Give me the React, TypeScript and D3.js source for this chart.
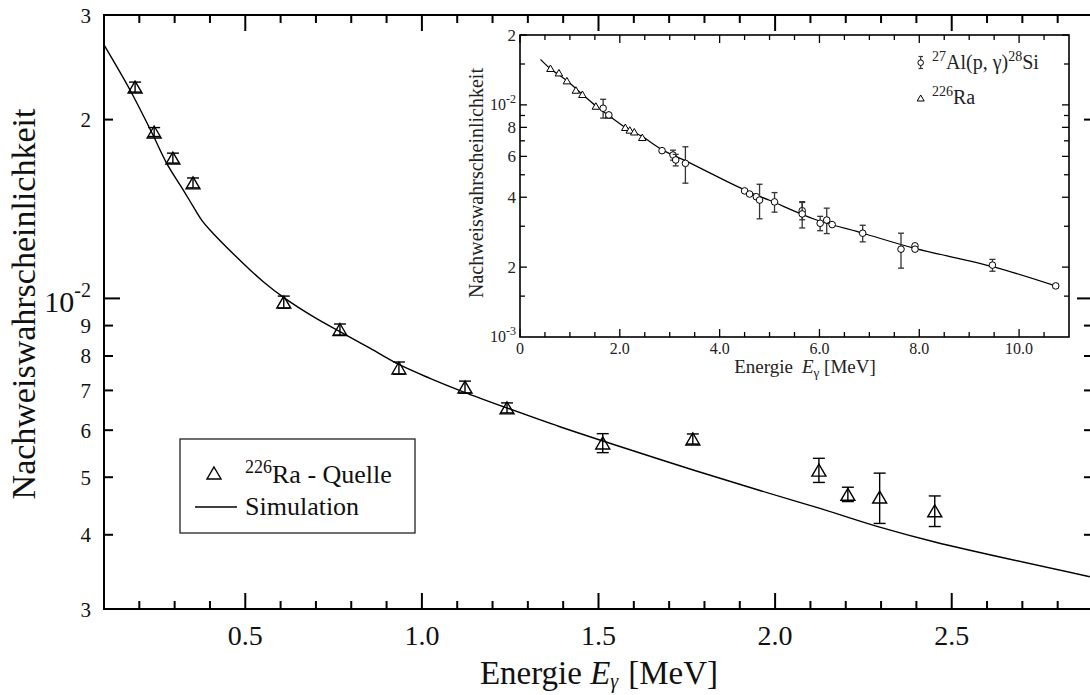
import React from "react";
import * as d3 from "d3";

// ---------- data: main plot (226Ra source) ----------
const raEnergy = [0.188, 0.242, 0.295, 0.352, 0.609, 0.768, 0.935, 1.122, 1.241, 1.512, 1.767, 2.124, 2.206, 2.296, 2.452];
const raEff = [0.02269, 0.01906, 0.01723, 0.01565, 0.00986, 0.008865, 0.007635, 0.007092, 0.006543, 0.00571, 0.0058, 0.00514, 0.00468, 0.00463, 0.00439];
const raErr = [0.00044, 0.00033, 0.00033, 0.0003, 0.00023, 0.00019, 0.00018, 0.000165, 0.000127, 0.00021, 0.000113, 0.00024, 0.00013, 0.00045, 0.00026];

const simEnergy = [0.1, 0.1736, 0.2359, 0.2775, 0.3245, 0.3528, 0.3765, 0.4, 0.4943, 0.5509, 0.6123, 0.6924, 0.768, 0.8529, 0.9378, 1.0227, 1.117, 1.2398, 1.3907, 1.532, 1.768, 1.957, 2.127, 2.296, 2.452, 2.891];
const simEff = [0.02671, 0.02243, 0.01899, 0.01688, 0.01522, 0.01427, 0.01355, 0.01304, 0.01145, 0.010668, 0.01, 0.009316, 0.00879, 0.008245, 0.007725, 0.007336, 0.006963, 0.006543, 0.00608, 0.005704, 0.005142, 0.004749, 0.00443, 0.00412, 0.00389, 0.0034];

// ---------- data: inset ----------
const insetRaEnergy = [0.61, 0.78, 0.94, 1.12, 1.25, 1.52, 1.78, 2.11, 2.2, 2.29, 2.45];
const insetRaEff = [0.01438, 0.01376, 0.01272, 0.01159, 0.01111, 0.00989, 0.00905, 0.00801, 0.0078, 0.00766, 0.00725];

const alEnergy = [1.666, 1.78, 2.846, 3.066, 3.12, 3.314, 4.5, 4.6, 4.734, 4.8, 5.1, 5.654, 5.654, 6.014, 6.146, 6.254, 6.866, 7.634, 7.914, 7.914, 9.466, 10.734];
const alEff = [0.00967, 0.00905, 0.00635, 0.00608, 0.00579, 0.0056, 0.00426, 0.00413, 0.00402, 0.00389, 0.00382, 0.0035, 0.00339, 0.00309, 0.00319, 0.00305, 0.0028, 0.00239, 0.00247, 0.00239, 0.00204, 0.00166];
const alErr = [0.0009, 0.00012, 0.00008, 0.0003, 0.00033, 0.001, 0.00005, 0.00005, 0.00005, 0.00066, 0.00037, 0.0003, 0.00044, 0.00022, 0.0004, 0.00005, 0.00023, 0.00041, 0.00005, 0.00005, 0.00012, 0.00003];

const fitEnergy = [0.41, 0.61, 0.94, 1.25, 1.52, 1.78, 2.11, 2.45, 2.85, 3.31, 4.5, 5.0, 5.93, 6.87, 7.91, 9.47, 10.73];
const fitEff = [0.0157, 0.0143, 0.0127, 0.0111, 0.0099, 0.009, 0.008, 0.0073, 0.0064, 0.00575, 0.0043, 0.00388, 0.0032, 0.0028, 0.00241, 0.00201, 0.00166];

// ---------- ticks ----------
const mainXMajor = [0.5, 1.0, 1.5, 2.0, 2.5];
const mainXMajorLabels = ["0.5", "1.0", "1.5", "2.0", "2.5"];
const mainXMinor = [0.2, 0.3, 0.4, 0.6, 0.7, 0.8, 0.9, 1.1, 1.2, 1.3, 1.4, 1.6, 1.7, 1.8, 1.9, 2.1, 2.2, 2.3, 2.4, 2.6, 2.7, 2.8];
const mainYTicks = [0.003, 0.004, 0.005, 0.006, 0.007, 0.008, 0.009, 0.01, 0.02, 0.03];
const mainYLabels = ["3", "4", "5", "6", "7", "8", "9", "10", "2", "3"];

const insetXMajor = [0, 2, 4, 6, 8, 10];
const insetXLabels = ["0", "2.0", "4.0", "6.0", "8.0", "10.0"];
const insetXMinor = [0.5, 1, 1.5, 2.5, 3, 3.5, 4.5, 5, 5.5, 6.5, 7, 7.5, 8.5, 9, 9.5, 10.5];
const insetYTicks = [0.0015, 0.002, 0.003, 0.004, 0.005, 0.006, 0.007, 0.008, 0.009, 0.01, 0.015, 0.02];
const insetYLabeled = [0.001, 0.002, 0.004, 0.006, 0.008, 0.01, 0.02];
const insetYLabels = ["10", "2", "4", "6", "8", "10", "2"];

const FONT = '"Liberation Serif", "Times New Roman", Times, serif';

const W = 1090;
const H = 695;

const mx = d3.scaleLinear().domain([0.1, 2.9]).range([104, 1093]);
const my = d3.scaleLog().domain([0.003, 0.03]).range([609, 15]);
const ix = d3.scaleLinear().domain([0, 11]).range([520, 1069]);
const iy = d3.scaleLog().domain([0.001, 0.02]).range([337, 35]);

function tri(cx: number, cy: number, w: number, h: number) {
  return `M${cx},${cy - h / 2}L${cx + w / 2},${cy + h / 2}L${cx - w / 2},${cy + h / 2}Z`;
}

export default function App() {
  const simLine = d3
    .line<number>()
    .x((_, i) => mx(simEnergy[i]))
    .y((d) => my(d))
    .curve(d3.curveCatmullRom.alpha(0.5));
  const fitLine = d3
    .line<number>()
    .x((_, i) => ix(fitEnergy[i]))
    .y((d) => iy(d))
    .curve(d3.curveCatmullRom.alpha(0.5));

  const mL = 104, mR = 1093, mT = 15, mB = 609;
  const iL = 520, iR = 1069, iT = 35, iB = 337;

  return (
    <svg
      width={W}
      height={H}
      style={{ position: "absolute", left: 0, top: 0, background: "#fff", fontFamily: FONT }}
    >
      <rect x={0} y={0} width={W} height={H} fill="#fff" />
      <defs>
        <clipPath id="mainClip">
          <rect x={mL} y={mT} width={mR - mL} height={mB - mT} />
        </clipPath>
        <clipPath id="insetClip">
          <rect x={iL} y={iT} width={iR - iL} height={iB - iT} />
        </clipPath>
      </defs>

      {/* ===== main axes frame ===== */}
      <rect x={mL} y={mT} width={mR - mL} height={mB - mT} fill="none" stroke="#000" strokeWidth={2} />

      {/* main x ticks */}
      {mainXMajor.map((v, i) => (
        <g key={"mxM" + i}>
          <line x1={mx(v)} x2={mx(v)} y1={mB} y2={mB - 16} stroke="#000" strokeWidth={2} />
          <line x1={mx(v)} x2={mx(v)} y1={mT} y2={mT + 16} stroke="#000" strokeWidth={2} />
          <text x={mx(v)} y={645} fontSize={28} textAnchor="middle" fill="#111">
            {mainXMajorLabels[i]}
          </text>
        </g>
      ))}
      {mainXMinor.map((v, i) => (
        <g key={"mxm" + i}>
          <line x1={mx(v)} x2={mx(v)} y1={mB} y2={mB - 8} stroke="#000" strokeWidth={2} />
          <line x1={mx(v)} x2={mx(v)} y1={mT} y2={mT + 8} stroke="#000" strokeWidth={2} />
        </g>
      ))}

      {/* main y ticks */}
      {mainYTicks.map((v, i) => {
        const major = v === 0.01;
        const len = major ? 16 : 9;
        const yy = my(v);
        return (
          <g key={"my" + i}>
            {i !== mainYTicks.length - 1 && i !== 0 && (
              <>
                <line x1={mL} x2={mL + len} y1={yy} y2={yy} stroke="#000" strokeWidth={2} />
                <line x1={mR} x2={mR - len} y1={yy} y2={yy} stroke="#000" strokeWidth={2} />
              </>
            )}
            {major ? (
              <text x={91} y={yy + 14} fontSize={30} textAnchor="end" fill="#111">
                10
                <tspan fontSize={20} dy={-15}>-2</tspan>
              </text>
            ) : (
              <text x={91} y={yy + 7.5} fontSize={21} textAnchor="end" fill="#111">
                {mainYLabels[i]}
              </text>
            )}
          </g>
        );
      })}

      {/* main axis titles */}
      <text x={599} y={684} fontSize={33} textAnchor="middle" fill="#111">
        Energie{" "}
        <tspan fontStyle="italic">E</tspan>
        <tspan fontSize={20} dy={4} fontStyle="italic">γ</tspan>
        <tspan dy={-4} dx={10}>[MeV]</tspan>
      </text>
      <text transform="translate(35,304) rotate(-90)" fontSize={34} textAnchor="middle" fill="#111">
        Nachweiswahrscheinlichkeit
      </text>

      {/* simulation curve */}
      <g clipPath="url(#mainClip)">
        <path d={simLine(simEff) || ""} fill="none" stroke="#000" strokeWidth={1.4} />
      </g>

      {/* Ra data */}
      {raEnergy.map((e, i) => {
        const cx = mx(e);
        const cy = my(raEff[i]);
        const yt = my(raEff[i] + raErr[i]);
        const yb = my(raEff[i] - raErr[i]);
        return (
          <g key={"ra" + i} stroke="#000" strokeWidth={1.4} fill="none">
            <line x1={cx} x2={cx} y1={yt} y2={yb} />
            <line x1={cx - 6} x2={cx + 6} y1={yt} y2={yt} />
            <line x1={cx - 6} x2={cx + 6} y1={yb} y2={yb} />
            <path d={tri(cx, cy, 14, 12)} />
          </g>
        );
      })}

      {/* main legend */}
      <rect x={180} y={439} width={235} height={94} fill="#fff" stroke="#222" strokeWidth={1.3} />
      <path d={tri(214, 473, 14, 12)} fill="none" stroke="#000" strokeWidth={1.4} />
      <text x={245} y={483} fontSize={26} fill="#111">
        <tspan fontSize={18} dy={-10}>226</tspan>
        <tspan dy={10}>Ra - Quelle</tspan>
      </text>
      <line x1={195} x2={237} y1={507} y2={507} stroke="#000" strokeWidth={1.4} />
      <text x={245} y={515} fontSize={26} fill="#111">
        Simulation
      </text>

      {/* ===== inset ===== */}
      <rect x={iL} y={iT} width={iR - iL} height={iB - iT} fill="#fff" stroke="#000" strokeWidth={1.6} />

      {insetXMajor.map((v, i) => (
        <g key={"ixM" + i}>
          <line x1={ix(v)} x2={ix(v)} y1={iB} y2={iB - 8} stroke="#000" strokeWidth={1.3} />
          <line x1={ix(v)} x2={ix(v)} y1={iT} y2={iT + 8} stroke="#000" strokeWidth={1.3} />
          <text x={ix(v)} y={354} fontSize={16} textAnchor="middle" fill="#222">
            {insetXLabels[i]}
          </text>
        </g>
      ))}
      {insetXMinor.map((v, i) => (
        <g key={"ixm" + i}>
          <line x1={ix(v)} x2={ix(v)} y1={iB} y2={iB - 5} stroke="#000" strokeWidth={1.3} />
          <line x1={ix(v)} x2={ix(v)} y1={iT} y2={iT + 5} stroke="#000" strokeWidth={1.3} />
        </g>
      ))}
      {insetYTicks.map((v, i) => {
        const labeled = insetYLabeled.indexOf(v) >= 0;
        const len = labeled ? 7 : 5;
        const yy = iy(v);
        return (
          <g key={"iyt" + i}>
            <line x1={iL} x2={iL + len} y1={yy} y2={yy} stroke="#000" strokeWidth={1.3} />
            <line x1={iR} x2={iR - len} y1={yy} y2={yy} stroke="#000" strokeWidth={1.3} />
          </g>
        );
      })}
      {insetYLabeled.map((v, i) => {
        const yy = iy(v);
        const isPow = v === 0.01 || v === 0.001;
        return isPow ? (
          <text key={"iyl" + i} x={516} y={yy + 5} fontSize={16} textAnchor="end" fill="#222">
            {insetYLabels[i]}
            <tspan fontSize={12} dy={-7}>{v === 0.01 ? "-2" : "-3"}</tspan>
          </text>
        ) : (
          <text key={"iyl" + i} x={516} y={yy + 5.5} fontSize={17} textAnchor="end" fill="#222">
            {insetYLabels[i]}
          </text>
        );
      })}

      <text x={805} y={373} fontSize={19} textAnchor="middle" fill="#222">
        Energie
        <tspan dx={9} fontStyle="italic">E</tspan>
        <tspan fontSize={13} dy={4}>γ</tspan>
        <tspan dy={-4}> [MeV]</tspan>
      </text>
      <text transform="translate(483,183) rotate(-90)" fontSize={20} textAnchor="middle" fill="#222">
        Nachweiswahrscheinlichkeit
      </text>

      <g clipPath="url(#insetClip)">
        <path d={fitLine(fitEff) || ""} fill="none" stroke="#000" strokeWidth={1.2} />
        {insetRaEnergy.map((e, i) => (
          <path
            key={"irt" + i}
            d={tri(ix(e), iy(insetRaEff[i]), 7.5, 6.5)}
            fill="#fff"
            stroke="#000"
            strokeWidth={1}
          />
        ))}
        {alEnergy.map((e, i) => {
          const cx = ix(e);
          const cy = iy(alEff[i]);
          const yt = iy(alEff[i] + alErr[i]);
          const yb = iy(alEff[i] - alErr[i]);
          return (
            <g key={"al" + i}>
              <g stroke="#333" strokeWidth={1.3}>
                <line x1={cx} x2={cx} y1={yt} y2={yb} />
                <line x1={cx - 3} x2={cx + 3} y1={yt} y2={yt} />
                <line x1={cx - 3} x2={cx + 3} y1={yb} y2={yb} />
              </g>
              <circle cx={cx} cy={cy} r={3.3} fill="#fff" stroke="#000" strokeWidth={1} />
            </g>
          );
        })}
      </g>

      {/* inset legend */}
      <g stroke="#333" strokeWidth={1.2}>
        <line x1={920.7} x2={920.7} y1={56.5} y2={68.5} />
        <line x1={918.5} x2={923} y1={56.5} y2={56.5} />
        <line x1={918.5} x2={923} y1={68.5} y2={68.5} />
      </g>
      <circle cx={920.7} cy={62.7} r={2.8} fill="#fff" stroke="#000" strokeWidth={1} />
      <text x={932} y={69} fontSize={20} fill="#222">
        <tspan fontSize={14} dy={-8}>27</tspan>
        <tspan dy={8}>Al(p, γ)</tspan>
        <tspan fontSize={14} dy={-8}>28</tspan>
        <tspan dy={8}>Si</tspan>
      </text>
      <path d={tri(920.7, 98, 7, 6)} fill="#fff" stroke="#000" strokeWidth={1} />
      <text x={932} y={104} fontSize={20} fill="#222">
        <tspan fontSize={14} dy={-8}>226</tspan>
        <tspan dy={8}>Ra</tspan>
      </text>
    </svg>
  );
}
